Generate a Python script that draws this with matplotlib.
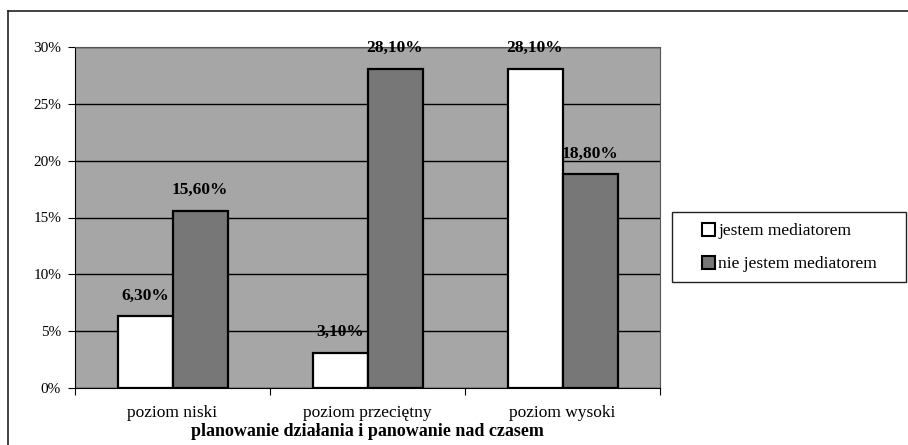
import matplotlib.pyplot as plt
from matplotlib.patches import Rectangle
import numpy as np

plt.rcParams['font.family'] = ['Liberation Serif', 'DejaVu Serif']

kategorie = ['poziom niski', 'poziom przeciętny', 'poziom wysoki']
jestem = [6.3, 3.1, 28.1]
nie_jestem = [15.6, 28.1, 18.8]
serie = ['jestem mediatorem', 'nie jestem mediatorem']
yticki = [0, 5, 10, 15, 20, 25, 30]

W, H = 908, 445
fig = plt.figure(figsize=(W / 100, H / 100), dpi=100)

# ramka wykresu (góra i lewa krawędź)
fig.add_artist(plt.Line2D([8 / W, 1], [1 - 11 / H, 1 - 11 / H], color='#222222', lw=1.2))
fig.add_artist(plt.Line2D([8 / W, 8 / W], [0, 1 - 11 / H], color='#222222', lw=1.2))

ax = fig.add_axes([75 / W, 1 - 388 / H, (660 - 75) / W, (388 - 47) / H])
ax.set_facecolor('#a6a6a6')

x = np.arange(len(kategorie))
w = 55 / 195
b1 = ax.bar(x - w / 2, jestem, w, color='white', edgecolor='black', lw=1.6, label=serie[0], zorder=3)
b2 = ax.bar(x + w / 2, nie_jestem, w, color='#777777', edgecolor='black', lw=1.6, label=serie[1], zorder=3)

for bars, vals in ((b1, jestem), (b2, nie_jestem)):
    for r, v in zip(bars, vals):
        ax.text(r.get_x() + r.get_width() / 2, v + 1.1, f'{v:.2f}%'.replace('.', ','),
                ha='center', va='bottom', fontsize=12.5, fontweight='bold', zorder=4)

ax.set_ylim(0, 30)
ax.set_xlim(-0.5, 2.5)
ax.set_yticks(yticki)
ax.set_yticklabels([f'{t}%' for t in yticki], fontsize=11)
ax.yaxis.grid(True, color='black', lw=1)
ax.set_axisbelow(True)

ax.set_xticks(np.arange(-0.5, 3, 1))
ax.set_xticklabels([])
ax.set_xticks(x, minor=True)
ax.set_xticklabels(kategorie, minor=True, fontsize=12.5)
ax.tick_params(axis='x', which='minor', length=0, pad=12)
ax.tick_params(axis='x', which='major', length=5, direction='out')
ax.tick_params(axis='y', length=5, direction='out', pad=5)
ax.set_xlabel('planowanie działania i panowanie nad czasem', fontsize=13, fontweight='bold', labelpad=2)

for s in ('top', 'right'):
    ax.spines[s].set_color('#555555')
for s in ('left', 'bottom'):
    ax.spines[s].set_color('black')

# ramka legendy sięga prawej krawędzi
fig.add_artist(Rectangle((672 / W, 1 - 282 / H), (906 - 672) / W, 70 / H,
                         transform=fig.transFigure, fill=False, ec='#222222', lw=1))
leg = fig.legend(handles=[b1, b2], labels=serie, loc='upper left',
                 bbox_to_anchor=(702 / W, 1 - 223 / H), fontsize=12.5, frameon=False,
                 handlelength=0.75, handleheight=0.75, handletextpad=0.2,
                 labelspacing=0.95, borderpad=0, borderaxespad=0)
for h in leg.legend_handles:
    h.set_linewidth(1.5)

fig.savefig('out.png', dpi=100)
